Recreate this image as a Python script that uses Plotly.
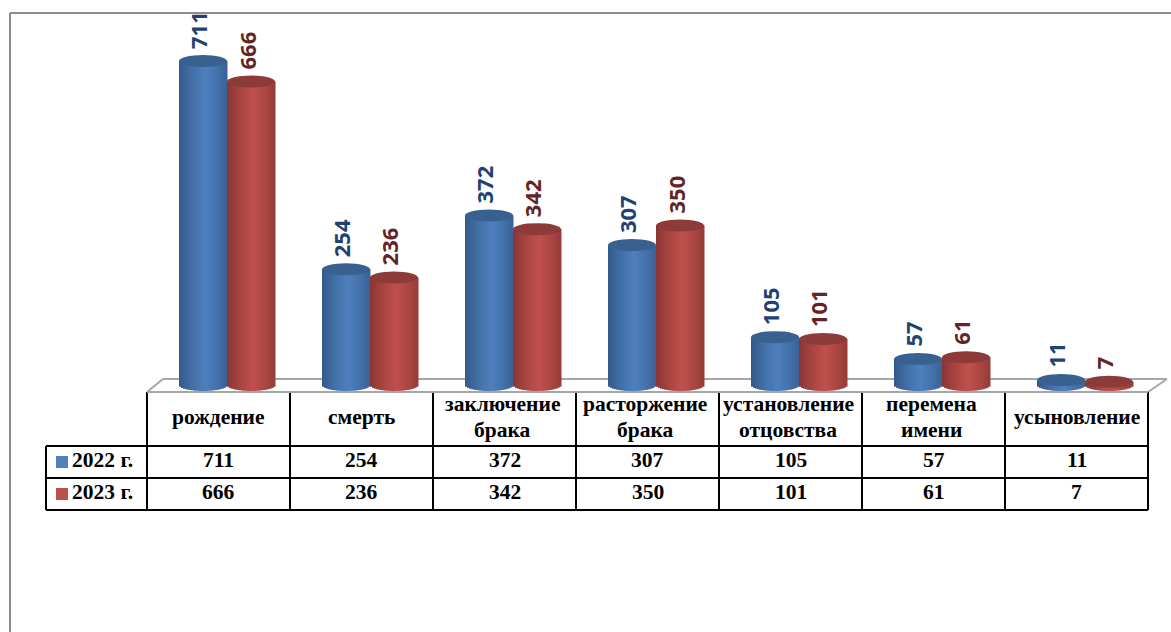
import math
import plotly.graph_objects as go

categories = ["рождение", "смерть", "заключение<br>брака", "расторжение<br>брака",
              "установление<br>отцовства", "перемена<br>имени", "усыновление"]
series_names = ["2022 г.", "2023 г."]
values_2022 = [711, 254, 372, 307, 105, 57, 11]
values_2023 = [666, 236, 342, 350, 101, 61, 7]

W, H = 1171, 632
PX_ZERO_X = 227.0     # centre of the first pair of cylinders
PX_CAT = 143.0
PX_ZERO_Y = 385.0
PX_PER_UNIT = 0.4557
CYL_W = 48.0
CAP_H = 6.0
N_STRIPS = 24


def xd(px):
    return (px - PX_ZERO_X) / PX_CAT


def yd(py):
    return (PX_ZERO_Y - py) / PX_PER_UNIT


def mix(c1, c2, t):
    return "rgb(%d,%d,%d)" % tuple(round(a + (b - a) * t) for a, b in zip(c1, c2))


styles = [
    dict(values=values_2022, side=-1, edge=(50, 88, 135), mid=(78, 128, 190),
         cap="#38618f", lab="#1f4272", sw="#4F81BD"),
    dict(values=values_2023, side=1, edge=(134, 52, 50), mid=(192, 80, 77),
         cap="#8c3b38", lab="#632523", sw="#C0504D"),
]

fig = go.Figure()
shapes = []
ann = []
cyl_w = CYL_W / PX_CAT
strip_w = cyl_w / N_STRIPS
indices = list(range(len(categories)))

for s in styles:
    left = -cyl_w if s["side"] < 0 else 0.0
    for k in range(N_STRIPS):
        t = (k + 0.5) / N_STRIPS * 2 - 1
        drop = CAP_H * math.sqrt(max(0, 1 - t * t)) / PX_PER_UNIT
        light = 1 - abs(t - 0.1) / 1.1
        fig.add_trace(go.Bar(
            x=indices,
            y=[v + drop for v in s["values"]],
            base=-drop,
            width=strip_w * 1.25,
            offset=left + k * strip_w,
            marker=dict(color=mix(s["edge"], s["mid"], min(1, light ** 0.8)), line=dict(width=0)),
            showlegend=False,
            hoverinfo="skip",
        ))
    for i, v in zip(indices, s["values"]):
        d = CAP_H / PX_PER_UNIT
        shapes.append(dict(type="circle", xref="x", yref="y", layer="above",
                           x0=i + left, x1=i + left + cyl_w, y0=v - d, y1=v + d,
                           fillcolor=s["cap"], line=dict(width=0)))
        ann.append(dict(x=i + left + cyl_w / 2, y=v, xref="x", yref="y", text=f"{v}",
                        textangle=-90, showarrow=False, xanchor="center", yanchor="bottom",
                        xshift=-5, yshift=10,
                        font=dict(family="Open Sans", size=22, weight=700, color=s["lab"])))

# outer frame
GRAY = "#8c8c8c"
for a in [(10, 13, 1171, 13), (10, 13, 10, 632)]:
    shapes.append(dict(type="line", xref="x", yref="y", x0=xd(a[0]), x1=xd(a[2]), y0=yd(a[1]), y1=yd(a[3]),
                       layer="below", line=dict(color=GRAY, width=2)))
# floor
FLOOR = "#a6a6a6"
for a in [(147, 392, 163, 379), (163, 379, 1167, 379), (1167, 379, 1148, 392)]:
    shapes.append(dict(type="line", xref="x", yref="y", x0=xd(a[0]), x1=xd(a[2]), y0=yd(a[1]), y1=yd(a[3]),
                       layer="below", line=dict(color=FLOOR, width=2)))

# data table
col_edges = [147 + PX_CAT * i for i in range(len(categories) + 1)]
Y_TOP, Y_H, Y_A, Y_B = 392, 446, 478, 510
LEFT = 46
TEXT_UP = 2
LINE_GAP = 26


def tline(x0, y0, x1, y1, color="black", width=2):
    shapes.append(dict(type="line", xref="x", yref="y", x0=xd(x0), x1=xd(x1), y0=yd(y0), y1=yd(y1),
                       layer="above", line=dict(color=color, width=width)))


for y in (Y_H, Y_A, Y_B):
    tline(LEFT, y, col_edges[-1], y)
for x in col_edges:
    tline(x, Y_TOP, x, Y_B)
tline(LEFT, Y_H, LEFT, Y_B)
tline(col_edges[0], Y_TOP, col_edges[-1], Y_TOP, color=FLOOR)

FONT = dict(family="Liberation Serif", size=21.5, color="black")
for i, cat in enumerate(categories):
    cx = xd((col_edges[i] + col_edges[i + 1]) / 2)
    lines = cat.split("<br>")
    for j, line in enumerate(lines):
        py = (Y_TOP + Y_H) / 2 - TEXT_UP + (j - (len(lines) - 1) / 2) * LINE_GAP
        ann.append(dict(x=cx, y=yd(py), xref="x", yref="y", text=f"<b>{line}</b>",
                        xshift=-2.5 if len(lines) > 1 else 0,
                        showarrow=False, font=FONT, xanchor="center", yanchor="middle"))
    for s, y0, y1 in ((styles[0], Y_H, Y_A), (styles[1], Y_A, Y_B)):
        ann.append(dict(x=cx, y=yd((y0 + y1) / 2 - TEXT_UP), xref="x", yref="y", text=f"<b>{s['values'][i]}</b>",
                        showarrow=False, font=FONT, xanchor="center", yanchor="middle"))

for s, name, y0, y1 in ((styles[0], series_names[0], Y_H, Y_A), (styles[1], series_names[1], Y_A, Y_B)):
    mid = (y0 + y1) / 2
    shapes.append(dict(type="rect", xref="x", yref="y", x0=xd(56), x1=xd(68), y0=yd(mid - 6), y1=yd(mid + 6),
                       layer="above", fillcolor=s["sw"], line=dict(width=0)))
    ann.append(dict(x=xd(70), y=yd(mid - TEXT_UP), xref="x", yref="y", text=f"<b>{name}</b>", showarrow=False,
                    font=FONT, xanchor="left", yanchor="middle"))

fig.update_layout(
    width=W, height=H, margin=dict(l=0, r=0, t=0, b=0),
    paper_bgcolor="white", plot_bgcolor="white",
    barmode="overlay", showlegend=False, shapes=shapes, annotations=ann,
    xaxis=dict(range=[xd(0), xd(W)], visible=False, fixedrange=True),
    yaxis=dict(range=[yd(H), yd(0)], visible=False, fixedrange=True),
)
fig.write_html("out.html", config={"displayModeBar": False},
               post_script="document.body.style.margin='0';")
